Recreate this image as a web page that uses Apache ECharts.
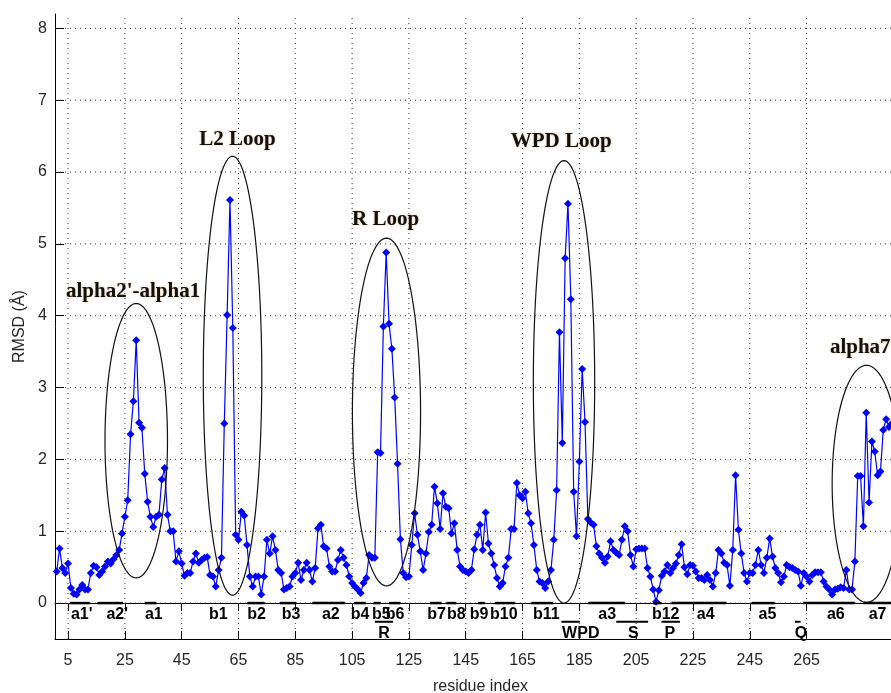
<!DOCTYPE html>
<html>
<head>
<meta charset="utf-8">
<script src="https://cdn.jsdelivr.net/npm/echarts@6/dist/echarts.min.js"></script>
<style>
html, body { margin: 0; padding: 0; background: #fff; }
#chart { width: 891px; height: 693px; }
</style>
</head>
<body>
<div id="chart"></div>
<script>
// RMSD per residue, residue 1 .. 296
var rmsd = [
    0.44,0.76,0.49,0.42,0.55,0.21,0.13,0.12,0.19,0.25,
    0.19,0.19,0.42,0.52,0.50,0.39,0.44,0.51,0.58,0.55,
    0.61,0.67,0.74,0.97,1.20,1.43,2.35,2.81,3.66,2.51,
    2.44,1.80,1.41,1.20,1.06,1.20,1.23,1.72,1.88,1.23,
    1.00,1.00,0.58,0.72,0.55,0.38,0.42,0.42,0.58,0.69,
    0.56,0.60,0.63,0.64,0.39,0.37,0.23,0.46,0.63,2.50,
    4.01,5.61,3.83,0.95,0.88,1.27,1.22,0.81,0.37,0.23,
    0.37,0.37,0.12,0.37,0.88,0.69,0.93,0.74,0.46,0.42,
    0.19,0.21,0.23,0.37,0.42,0.56,0.32,0.46,0.56,0.46,
    0.30,0.49,1.04,1.09,0.79,0.76,0.51,0.44,0.44,0.60,
    0.74,0.63,0.53,0.37,0.28,0.23,0.19,0.14,0.28,0.35,
    0.67,0.63,0.63,2.10,2.09,3.85,4.88,3.89,3.54,2.86,
    1.94,0.89,0.42,0.36,0.37,0.81,1.25,0.95,0.72,0.46,
    0.69,0.99,1.09,1.62,1.39,1.03,1.53,1.34,1.32,0.97,
    1.11,0.74,0.51,0.46,0.44,0.42,0.46,0.75,0.95,1.09,
    0.74,1.26,0.83,0.69,0.53,0.35,0.23,0.28,0.51,0.63,
    1.03,1.03,1.67,1.50,1.46,1.55,1.25,1.11,0.81,0.46,
    0.30,0.28,0.21,0.30,0.46,0.88,1.57,3.77,2.23,4.80,
    5.56,4.23,1.55,0.93,1.97,3.26,2.52,1.17,1.12,1.09,
    0.79,0.69,0.63,0.56,0.65,0.86,0.74,0.70,0.67,0.88,
    1.07,1.00,0.67,0.51,0.75,0.76,0.76,0.76,0.49,0.37,
    0.19,0.02,0.18,0.38,0.44,0.53,0.42,0.49,0.55,0.67,
    0.82,0.50,0.40,0.53,0.52,0.44,0.35,0.35,0.32,0.39,
    0.32,0.23,0.42,0.74,0.69,0.56,0.53,0.24,0.74,1.78,
    1.02,0.69,0.42,0.30,0.42,0.42,0.53,0.74,0.53,0.42,
    0.63,0.90,0.65,0.49,0.42,0.29,0.37,0.53,0.50,0.49,
    0.46,0.44,0.24,0.42,0.37,0.30,0.39,0.43,0.43,0.43,
    0.30,0.23,0.19,0.12,0.19,0.20,0.22,0.21,0.46,0.19,
    0.19,0.58,1.77,1.77,1.07,2.65,1.40,2.25,2.11,1.78,
    1.83,2.41,2.56,2.45,2.50,2.55
];
var firstResidue = 1;

var xTicks = [5, 25, 45, 65, 85, 105, 125, 145, 165, 185, 205, 225, 245, 265];
var yTicks = [0, 1, 2, 3, 4, 5, 6, 7, 8];
var xMin = 0.4, xMax = 300, yMin = -0.5, yMax = 8.2;

// loops circled on the plot: centre (residue, rmsd) and half sizes
var loopNames = ["alpha2'-alpha1", 'L2 Loop', 'R Loop', 'WPD Loop', 'alpha7'];
var loopCx = [29, 62.9, 117.1, 179.6, 286.1];
var loopCy = [2.26, 3.165, 2.66, 3.08, 1.66];
var loopRx = [11, 10.3, 12, 10.8, 12.1];
var loopRy = [1.91, 3.055, 2.42, 3.08, 1.65];
var loopLabelX = [27.9, 64.6, 116.8, 178.6, 273.2];
var loopLabelY = [4.33, 6.45, 5.34, 6.43, 3.55];

// secondary structure elements
var ssNames = ["a1'", "a2'", 'a1', 'b1', 'b2', 'b3', 'a2', 'b4', 'b5', 'b6', 'b7', 'b8',
               'b9', 'b10', 'b11', 'a3', 'b12', 'a4', 'a5', 'a6', 'a7'];
var ssStart = [5.6, 15.3, 32, null, 68.1, 79.5, 91, 105.6, 112.5, 118, 132.4, 138.2,
               149.4, 155.2, 168.1, 188.1, 211, 217.4, 245.6, 263.8, 285];
var ssEnd   = [12.6, 24.4, 36.1, null, 74.2, 85.4, 102.4, 109.8, 115, 122, 136.5, 141.7,
               151.7, 162.3, 175.8, 201, 214, 236.8, 253.8, 282, 300];
var ssLabelX = [9.8, 22.3, 35.2, 57.9, 71.4, 83.5, 97.5, 107.8, 115.3, 120.1, 134.7, 141.7,
                149.7, 158.4, 173.4, 194.8, 215.4, 229.5, 251.2, 275.3, 290];

// motifs
var motifNames = ['R', 'WPD', 'S', 'P', 'Q'];
var motifStart = [113, 178.7, 198, 213.9, 260.9];
var motifEnd   = [119.4, 185.2, 209.2, 220.4, 262.9];
var motifLabelX = [116.2, 185.5, 204, 216.9, 263];

var lineData = rmsd.map(function (v, i) { return [firstResidue + i, v]; });

var ssRow = 0, ssTextRow = -0.16, motifRow = -0.26, motifTextRow = -0.42;

var barData = [], textData = [], textList = [];
ssNames.forEach(function (n, i) {
    if (ssStart[i] != null) barData.push([ssStart[i], ssEnd[i], ssRow, 2.5]);
    textList.push(n);
    textData.push([ssLabelX[i], ssTextRow, textList.length - 1]);
});
motifNames.forEach(function (n, i) {
    barData.push([motifStart[i], motifEnd[i], motifRow, 2]);
    textList.push(n);
    textData.push([motifLabelX[i], motifTextRow, textList.length - 1]);
});

var loopData = loopCx.map(function (c, i) { return [c, loopCy[i], loopRx[i], loopRy[i]]; });
var loopTextData = loopNames.map(function (n, i) { return [loopLabelX[i], loopLabelY[i], i]; });

// dotted grid: 0 = vertical line at x, 1 = horizontal line at y
var gridData = xTicks.map(function (v) { return [v, 0, 0]; })
    .concat(yTicks.map(function (v) { return [0, v, 1]; }));

var tickFont = { color: '#262626', fontSize: 16, fontFamily: 'Liberation Sans, Arial, sans-serif' };

var chart = echarts.init(document.getElementById('chart'), null, { renderer: 'canvas' });
chart.setOption({
    animation: false,
    backgroundColor: '#fff',
    grid: { left: 55, right: -15, top: 14, bottom: 54, outerBoundsMode: 'none', containLabel: false },
    xAxis: [{
        type: 'value', min: xMin, max: xMax,
        name: 'residue index', nameLocation: 'middle', nameGap: 40,
        nameTextStyle: tickFont,
        axisLine: { show: true, onZero: false, lineStyle: { color: '#000', width: 1 } },
        axisTick: { show: true, inside: true, length: 8, customValues: xTicks, lineStyle: { color: '#000' } },
        axisLabel: Object.assign({ customValues: xTicks, margin: 14 }, tickFont),
        splitLine: { show: false }
    }, {
        type: 'value', min: xMin, max: xMax, position: 'top',
        axisLine: { show: true, lineStyle: { color: '#000', width: 1 } },
        axisTick: { show: true, inside: true, length: 8, customValues: xTicks, lineStyle: { color: '#000' } },
        axisLabel: { show: false, customValues: xTicks },
        splitLine: { show: false }
    }],
    yAxis: {
        type: 'value', min: yMin, max: yMax,
        name: 'RMSD (Å)', nameLocation: 'middle', nameGap: 27,
        nameTextStyle: tickFont,
        axisLine: { show: true, onZero: false, lineStyle: { color: '#000', width: 1 } },
        axisTick: { show: true, inside: true, length: 9, customValues: yTicks, lineStyle: { color: '#000' } },
        axisLabel: Object.assign({ customValues: yTicks, margin: 8 }, tickFont),
        splitLine: { show: false }
    },
    series: [{
        type: 'custom',
        data: gridData,
        z: 1,
        silent: true,
        renderItem: function (params, api) {
            var a, b;
            if (api.value(2) === 0) {
                a = api.coord([api.value(0), yMin]);
                b = api.coord([api.value(0), yMax]);
            } else {
                a = api.coord([xMin, api.value(1)]);
                b = api.coord([xMax, api.value(1)]);
            }
            return { type: 'line', shape: { x1: a[0], y1: a[1], x2: b[0], y2: b[1] },
                     style: { stroke: '#333', lineWidth: 1, lineDash: [1, 4] } };
        }
    }, {
        type: 'line',
        data: lineData,
        symbol: 'diamond',
        symbolSize: 8,
        showSymbol: true,
        itemStyle: { color: '#0000ff' },
        lineStyle: { color: '#0000ff', width: 1.2 },
        z: 3
    }, {
        type: 'custom',
        data: loopData,
        z: 4,
        renderItem: function (params, api) {
            var cx = api.value(0), cy = api.value(1), rx = api.value(2), ry = api.value(3);
            var pts = [];
            for (var k = 0; k <= 120; k++) {
                var t = Math.PI * 2 * k / 120;
                pts.push(api.coord([cx + rx * Math.cos(t), cy + ry * Math.sin(t)]));
            }
            return { type: 'polyline', shape: { points: pts }, style: { fill: null, stroke: '#111', lineWidth: 1.2 } };
        }
    }, {
        type: 'custom',
        data: loopTextData,
        z: 5,
        renderItem: function (params, api) {
            var i = api.value(2);
            var p = api.coord([api.value(0), api.value(1)]);
            var last = i === loopNames.length - 1;
            return {
                type: 'text', x: p[0], y: p[1],
                style: {
                    text: loopNames[i], fill: '#111',
                    font: 'bold 21px "Liberation Serif", "Times New Roman", serif',
                    align: last ? 'left' : 'center', verticalAlign: 'middle',
                    textShadowColor: 'rgba(190,130,40,0.55)', textShadowBlur: 2
                }
            };
        }
    }, {
        type: 'custom',
        data: barData,
        z: 5,
        renderItem: function (params, api) {
            var a = api.coord([api.value(0), api.value(2)]);
            var b = api.coord([api.value(1), api.value(2)]);
            return { type: 'line', shape: { x1: a[0], y1: a[1], x2: b[0], y2: b[1] },
                     style: { stroke: '#000', lineWidth: api.value(3) } };
        }
    }, {
        type: 'custom',
        data: textData,
        z: 6,
        renderItem: function (params, api) {
            var p = api.coord([api.value(0), api.value(1)]);
            return {
                type: 'text', x: p[0], y: p[1],
                style: {
                    text: textList[api.value(2)], fill: '#000',
                    font: 'bold 16px "Liberation Sans", Arial, sans-serif',
                    align: 'center', verticalAlign: 'middle'
                }
            };
        }
    }]
});
</script>
</body>
</html>
